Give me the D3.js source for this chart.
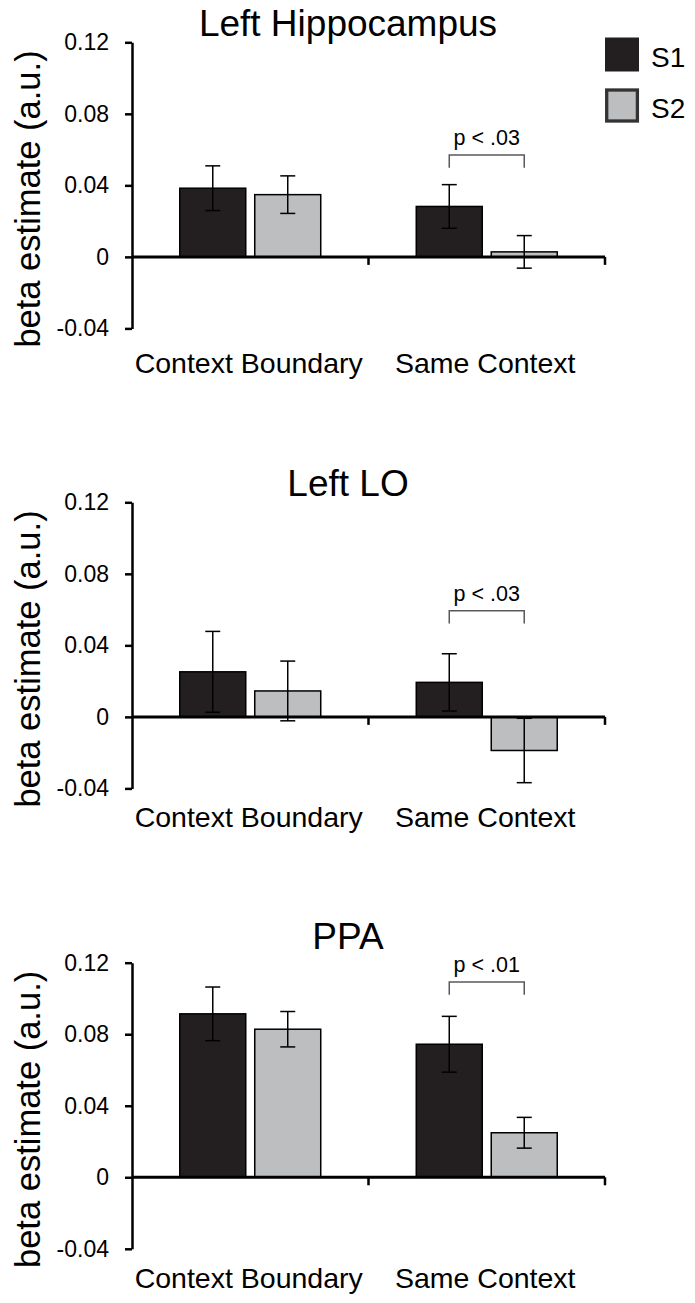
<!DOCTYPE html>
<html>
<head>
<meta charset="utf-8">
<script src="https://cdn.jsdelivr.net/npm/d3@7"></script>
<style>
  body { margin: 0; background: #fff; }
  svg { display: block; font-family: "Liberation Sans", Arial, sans-serif; }
</style>
</head>
<body>
<svg id="svg" width="695" height="1303"></svg>
<script>
// chart values
const panels = ["Left Hippocampus", "Left LO", "PPA"]
const categories = ["Context Boundary", "Same Context"]
const series = ["S1", "S2"]
const s1Means = [[0.0384, 0.0282], [0.0252, 0.0193], [0.0914, 0.0744]]
const s2Means = [[0.0348, 0.0028], [0.0145, -0.0188], [0.0828, 0.0249]]
const s1Err = [[0.0125, 0.0122], [0.0226, 0.0160], [0.0150, 0.0156]]
const s2Err = [[0.0105, 0.0091], [0.0167, 0.0180], [0.0099, 0.0086]]
const pLabels = ["p < .03", "p < .03", "p < .01"]
const yTicks = [-0.04, 0, 0.04, 0.08, 0.12]
const yTickLabels = ["-0.04", "0", "0.04", "0.08", "0.12"]

// per panel layout (pixels, relative to the top of the y axis)
const layout = [
    { top: 42.3, titleY: -6.3, catY: 330.7, bracketY: 112.7 },
    { top: 502.3, titleY: -6.6, catY: 324.4, bracketY: 108.4 },
    { top: 962.7, titleY: -13.4, catY: 325.6, bracketY: 19.3 }
]

const colors = { S1: "#231f20", S2: "#bcbec0" }
const axisH = 286.1

const svg = d3.select("#svg")

const x0 = d3.scaleBand()
    .domain(categories)
    .range([132, 605])
    .padding(0)

const x1 = d3.scaleBand()
    .domain(series)
    .range([0, x0.bandwidth()])
    .paddingInner(0.12)
    .paddingOuter(0.637)

panels.forEach((title, i) => {
    const L = layout[i]
    const g = svg.append("g")

    const y = d3.scaleLinear()
        .domain([-0.04, 0.12])
        .range([L.top + axisH, L.top])

    const rows = []
    categories.forEach((c, j) => {
        rows.push({ cat: c, s: "S1", v: s1Means[i][j], e: s1Err[i][j] })
        rows.push({ cat: c, s: "S2", v: s2Means[i][j], e: s2Err[i][j] })
    })

    // title
    g.append("text")
        .attr("x", 348)
        .attr("y", L.top + L.titleY)
        .attr("text-anchor", "middle")
        .attr("font-size", 37)
        .text(title)

    // y axis label
    g.append("text")
        .attr("transform", "translate(40," + (L.top + 156.7) + ") rotate(-90)")
        .attr("text-anchor", "middle")
        .attr("font-size", 34.5)
        .text("beta estimate (a.u.)")

    // y axis
    const yAxis = g.append("g")
        .attr("transform", "translate(132,0)")
        .call(d3.axisLeft(y)
            .tickValues(yTicks)
            .tickFormat((d, k) => yTickLabels[k])
            .tickSize(7)
            .tickSizeOuter(0)
            .tickPadding(16))
    yAxis.select(".domain").attr("stroke", "#000").attr("stroke-width", 2.5)
    yAxis.selectAll(".tick line").attr("stroke", "#000").attr("stroke-width", 2.5)
    yAxis.selectAll(".tick text")
        .attr("font-size", 23)
        .attr("font-family", "Liberation Sans, Arial, sans-serif")
        .attr("fill", "#000")

    // bars
    g.selectAll("rect.bar")
        .data(rows)
        .enter()
        .append("rect")
        .attr("class", "bar")
        .attr("x", d => x0(d.cat) + x1(d.s))
        .attr("width", x1.bandwidth())
        .attr("y", d => y(Math.max(0, d.v)))
        .attr("height", d => Math.abs(y(d.v) - y(0)))
        .attr("fill", d => colors[d.s])
        .attr("stroke", "#000")
        .attr("stroke-width", 1.5)

    // x axis line and ticks
    g.append("line")
        .attr("x1", x0.range()[0])
        .attr("x2", x0.range()[1])
        .attr("y1", y(0))
        .attr("y2", y(0))
        .attr("stroke", "#000")
        .attr("stroke-width", 3)
    g.selectAll("line.xtick")
        .data(categories)
        .enter()
        .append("line")
        .attr("class", "xtick")
        .attr("x1", d => x0(d) + x0.bandwidth())
        .attr("x2", d => x0(d) + x0.bandwidth())
        .attr("y1", y(0))
        .attr("y2", y(0) + 8)
        .attr("stroke", "#000")
        .attr("stroke-width", 2.5)

    // error bars
    const eb = g.selectAll("g.err")
        .data(rows)
        .enter()
        .append("g")
        .attr("class", "err")
        .attr("stroke", "#000")
        .attr("stroke-width", 1.5)
    const cx = d => x0(d.cat) + x1(d.s) + x1.bandwidth() / 2
    eb.append("line")
        .attr("x1", cx).attr("x2", cx)
        .attr("y1", d => y(d.v + d.e))
        .attr("y2", d => y(d.v - d.e))
    eb.append("line")
        .attr("x1", d => cx(d) - 7.5).attr("x2", d => cx(d) + 7.5)
        .attr("y1", d => y(d.v + d.e)).attr("y2", d => y(d.v + d.e))
    eb.append("line")
        .attr("x1", d => cx(d) - 7.5).attr("x2", d => cx(d) + 7.5)
        .attr("y1", d => y(d.v - d.e)).attr("y2", d => y(d.v - d.e))

    // category labels
    g.selectAll("text.cat")
        .data(categories)
        .enter()
        .append("text")
        .attr("class", "cat")
        .attr("x", d => x0(d) + x0.bandwidth() / 2 - 1.5)
        .attr("y", L.top + L.catY)
        .attr("text-anchor", "middle")
        .attr("font-size", 28.5)
        .text(d => d)

    // significance bracket
    const bx1 = x0(categories[1]) + x1("S1") + x1.bandwidth() / 2
    const bx2 = x0(categories[1]) + x1("S2") + x1.bandwidth() / 2
    const by = L.top + L.bracketY
    g.append("path")
        .attr("d", d3.line()([[bx1, by + 12.7], [bx1, by], [bx2, by], [bx2, by + 12.7]]))
        .attr("fill", "none")
        .attr("stroke", "#58595b")
        .attr("stroke-width", 1.5)
    g.append("text")
        .attr("x", (bx1 + bx2) / 2)
        .attr("y", by - 10)
        .attr("text-anchor", "middle")
        .attr("font-size", 21.5)
        .text(pLabels[i])
})

// legend
const leg = svg.append("g")
leg.append("rect")
    .attr("x", 605).attr("y", 37.5)
    .attr("width", 34).attr("height", 34)
    .attr("fill", colors.S1)
leg.append("rect")
    .attr("x", 606.7).attr("y", 90)
    .attr("width", 30.7).attr("height", 31)
    .attr("fill", colors.S2)
    .attr("stroke", "#333")
    .attr("stroke-width", 3.3)
leg.selectAll("text")
    .data(series)
    .enter()
    .append("text")
    .attr("x", 651)
    .attr("y", (d, k) => 66.7 + k * 51.6)
    .attr("font-size", 28)
    .text(d => d)
</script>
</body>
</html>
